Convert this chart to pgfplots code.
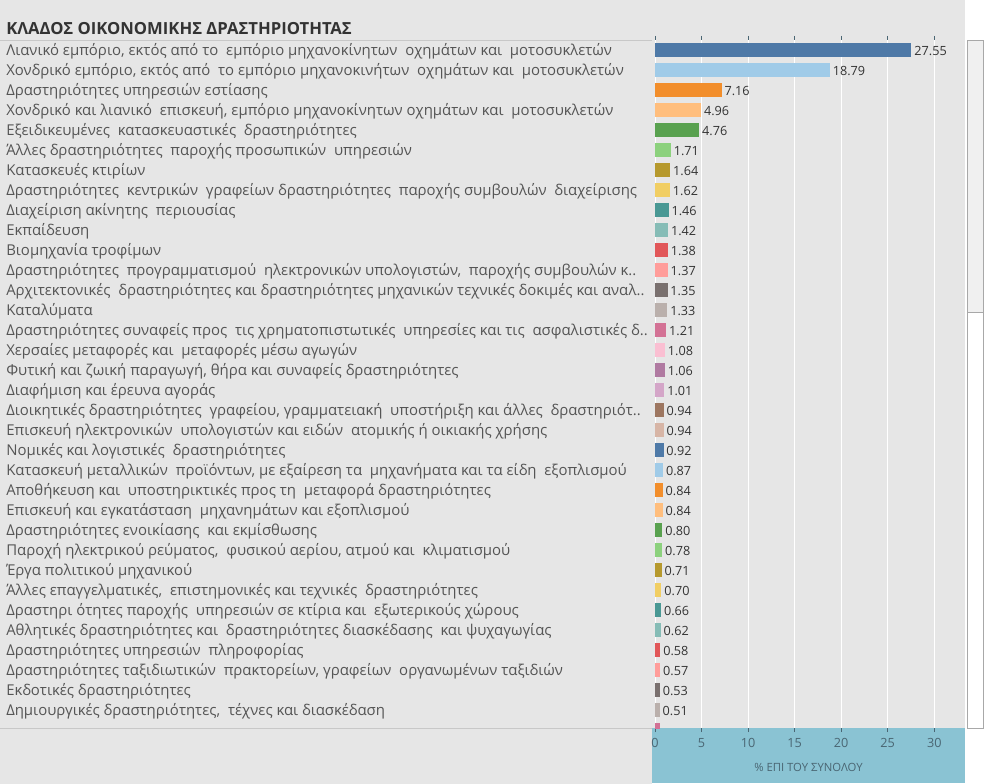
\documentclass[border=0pt]{standalone}
\usepackage{fontspec}
\setmainfont{Open Sans}
\usepackage{pgfplots}
\pgfplotsset{compat=1.18}
\definecolor{bg}{HTML}{E6E6E6}
\definecolor{band}{HTML}{8AC3D3}
\definecolor{linegray}{HTML}{C8C8C8}
\definecolor{sbborder}{HTML}{A8A8A8}
\definecolor{sbthumb}{HTML}{F0F0F0}
\definecolor{titlec}{HTML}{333333}
\definecolor{labc}{HTML}{555555}
\definecolor{valc}{HTML}{333333}
\definecolor{tickc}{HTML}{4A6673}
\definecolor{t1}{HTML}{4E79A7}
\definecolor{t2}{HTML}{A0CBE8}
\definecolor{t3}{HTML}{F28E2B}
\definecolor{t4}{HTML}{FFBE7D}
\definecolor{t5}{HTML}{59A14F}
\definecolor{t6}{HTML}{8CD17D}
\definecolor{t7}{HTML}{B6992D}
\definecolor{t8}{HTML}{F1CE63}
\definecolor{t9}{HTML}{499894}
\definecolor{t10}{HTML}{86BCB6}
\definecolor{t11}{HTML}{E15759}
\definecolor{t12}{HTML}{FF9D9A}
\definecolor{t13}{HTML}{79706E}
\definecolor{t14}{HTML}{BAB0AC}
\definecolor{t15}{HTML}{D37295}
\definecolor{t16}{HTML}{FABFD2}
\definecolor{t17}{HTML}{B07AA1}
\definecolor{t18}{HTML}{D4A6C8}
\definecolor{t19}{HTML}{9D7660}
\definecolor{t20}{HTML}{D7B5A6}
\pgfplotsset{bb/.style={fill=#1, draw=none, bar shift=0pt, bar width=0.72}}
\begin{document}
\begin{tikzpicture}
\begin{scope}[x=0.75pt,y=0.75pt]
\useasboundingbox (0,0) rectangle (984,784);
\fill[bg] (0,0) rectangle (965,784);
\fill[white] (965,0) rectangle (984,784);
\fill[band] (652,56) rectangle (965,1);
\fill[white] (652,1) rectangle (965,0);
\draw[linegray, line width=0.75pt] (0,743.5) -- (652,743.5);
\draw[linegray, line width=0.75pt] (0,55.5) -- (652,55.5);
\draw[sbborder, line width=0.75pt, fill=white] (967.5,743.5) rectangle (983.5,55.5);
\draw[sbborder, line width=0.75pt, fill=sbthumb] (967.5,743.5) rectangle (983.5,471);
\node[anchor=base west, font=\bfseries\fontsize{12.5}{14}\selectfont, text=titlec, inner sep=0pt] at (6,749) {ΚΛΑΔΟΣ ΟΙΚΟΝΟΜΙΚΗΣ ΔΡΑΣΤΗΡΙΟΤΗΤΑΣ};
\end{scope}
\begin{axis}[
  at={(489pt,42pt)}, anchor=south west,
  scale only axis, width=234.75pt, height=516pt,
  xbar, y dir=reverse,
  ymin=-0.5, ymax=33.9, xmin=-0.32, xmax=33.3,
  axis line style={draw=none},
  axis background/.style={fill=bg},
  xmajorgrids, grid style={white, line width=0.6pt},
  tick align=outside, major tick length=3pt,
  xtick={0,5,...,30}, x tick style={tickc, line width=0.6pt},
  ytick={0,...,33}, y tick style={draw=none},
  xticklabel style={font=\fontsize{9.5}{11}\selectfont, text=tickc, yshift=-1pt},
  xlabel={\% ΕΠΙ ΤΟΥ ΣΥΝΟΛΟΥ},
  xlabel style={font=\fontsize{8.5}{10}\selectfont, text=tickc, yshift=-5pt},
  yticklabel style={anchor=west, inner sep=0pt, xshift=-481.5pt, yshift=-1pt, font=\fontsize{11.2}{13}\selectfont, text=labc},
  yticklabels={
    {Λιανικό εμπόριο, εκτός από το~ εμπόριο μηχανοκίνητων~ οχημάτων και~ μοτοσυκλετών},
    {Χονδρικό εμπόριο, εκτός από~ το εμπόριο μηχανοκινήτων~ οχημάτων και~ μοτοσυκλετών},
    {Δραστηριότητες υπηρεσιών εστίασης},
    {Χονδρικό και λιανικό~ επισκευή, εμπόριο μηχανοκίνητων οχημάτων και~ μοτοσυκλετών},
    {Εξειδικευμένες~ κατασκευαστικές~ δραστηριότητες},
    {Άλλες δραστηριότητες~ παροχής προσωπικών~ υπηρεσιών},
    {Κατασκευές κτιρίων},
    {Δραστηριότητες~ κεντρικών~ γραφείων δραστηριότητες~ παροχής συμβουλών~ διαχείρισης},
    {Διαχείριση ακίνητης~ περιουσίας},
    {Εκπαίδευση},
    {Βιομηχανία τροφίμων},
    {Δραστηριότητες~ προγραμματισμού~ ηλεκτρονικών υπολογιστών,~ παροχής συμβουλών κ..},
    {Αρχιτεκτονικές~ δραστηριότητες και δραστηριότητες μηχανικών τεχνικές δοκιμές και αναλ..},
    {Καταλύματα},
    {Δραστηριότητες συναφείς προς~ τις χρηματοπιστωτικές~ υπηρεσίες και τις~ ασφαλιστικές δ..},
    {Χερσαίες μεταφορές και~ μεταφορές μέσω αγωγών},
    {Φυτική και ζωική παραγωγή, θήρα και συναφείς δραστηριότητες},
    {Διαφήμιση και έρευνα αγοράς},
    {Διοικητικές δραστηριότητες~ γραφείου, γραμματειακή~ υποστήριξη και άλλες~ δραστηριότ..},
    {Επισκευή ηλεκτρονικών~ υπολογιστών και ειδών~ ατομικής ή οικιακής χρήσης},
    {Νομικές και λογιστικές~ δραστηριότητες},
    {Κατασκευή μεταλλικών~ προϊόντων, με εξαίρεση τα~ μηχανήματα και τα είδη~ εξοπλισμού},
    {Αποθήκευση και~ υποστηρικτικές προς τη~ μεταφορά δραστηριότητες},
    {Επισκευή και εγκατάσταση~ μηχανημάτων και εξοπλισμού},
    {Δραστηριότητες ενοικίασης~ και εκμίσθωσης},
    {Παροχή ηλεκτρικού ρεύματος,~ φυσικού αερίου, ατμού και~ κλιματισμού},
    {Έργα πολιτικού μηχανικού},
    {Άλλες επαγγελματικές,~ επιστημονικές και τεχνικές~ δραστηριότητες},
    {Δραστηρι ότητες παροχής~ υπηρεσιών σε κτίρια και~ εξωτερικούς χώρους},
    {Αθλητικές δραστηριότητες και~ δραστηριότητες διασκέδασης~ και ψυχαγωγίας},
    {Δραστηριότητες υπηρεσιών~ πληροφορίας},
    {Δραστηριότητες ταξιδιωτικών~ πρακτορείων, γραφείων~ οργανωμένων ταξιδιών},
    {Εκδοτικές δραστηριότητες},
    {Δημιουργικές δραστηριότητες,~ τέχνες και διασκέδαση}
  },
  /pgf/number format/assume math mode=true,
  nodes near coords={\pgfmathprintnumber[fixed,fixed zerofill,precision=2]{\pgfplotspointmeta}},
  nodes near coords align={horizontal},
  every node near coord/.append style={font=\fontsize{9.5}{11}\selectfont, text=valc, inner sep=2pt, yshift=-0.5pt},
  point meta=x,
]
\addplot[bb=t1] coordinates {(27.55,0)};
\addplot[bb=t2] coordinates {(18.79,1)};
\addplot[bb=t3] coordinates {(7.16,2)};
\addplot[bb=t4] coordinates {(4.96,3)};
\addplot[bb=t5] coordinates {(4.76,4)};
\addplot[bb=t6] coordinates {(1.71,5)};
\addplot[bb=t7] coordinates {(1.64,6)};
\addplot[bb=t8] coordinates {(1.62,7)};
\addplot[bb=t9] coordinates {(1.46,8)};
\addplot[bb=t10] coordinates {(1.42,9)};
\addplot[bb=t11] coordinates {(1.38,10)};
\addplot[bb=t12] coordinates {(1.37,11)};
\addplot[bb=t13] coordinates {(1.35,12)};
\addplot[bb=t14] coordinates {(1.33,13)};
\addplot[bb=t15] coordinates {(1.21,14)};
\addplot[bb=t16] coordinates {(1.08,15)};
\addplot[bb=t17] coordinates {(1.06,16)};
\addplot[bb=t18] coordinates {(1.01,17)};
\addplot[bb=t19] coordinates {(0.94,18)};
\addplot[bb=t20] coordinates {(0.94,19)};
\addplot[bb=t1] coordinates {(0.92,20)};
\addplot[bb=t2] coordinates {(0.87,21)};
\addplot[bb=t3] coordinates {(0.84,22)};
\addplot[bb=t4] coordinates {(0.84,23)};
\addplot[bb=t5] coordinates {(0.80,24)};
\addplot[bb=t6] coordinates {(0.78,25)};
\addplot[bb=t7] coordinates {(0.71,26)};
\addplot[bb=t8] coordinates {(0.70,27)};
\addplot[bb=t9] coordinates {(0.66,28)};
\addplot[bb=t10] coordinates {(0.62,29)};
\addplot[bb=t11] coordinates {(0.58,30)};
\addplot[bb=t12] coordinates {(0.57,31)};
\addplot[bb=t13] coordinates {(0.53,32)};
\addplot[bb=t14] coordinates {(0.51,33)};
\addplot[bb=t15, nodes near coords={}] coordinates {(0.51,34)};
\end{axis}
\end{tikzpicture}
\end{document}
